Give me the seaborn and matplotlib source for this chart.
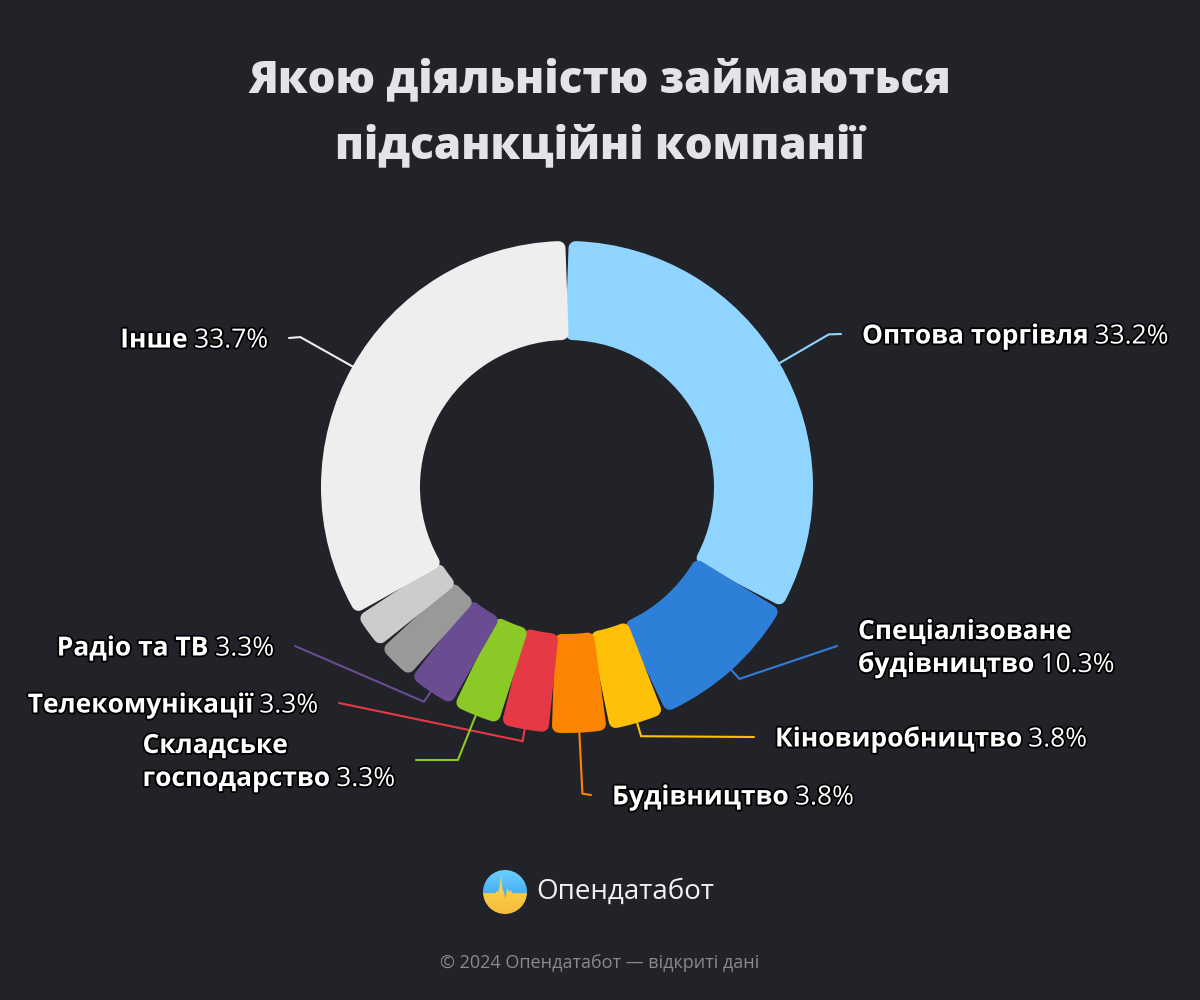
import numpy as np
import matplotlib
matplotlib.use("Agg")
import matplotlib.pyplot as plt
import matplotlib.patheffects as pe
from matplotlib.patches import Circle
import seaborn as sns

# ---------------- data ----------------
categories = ["Оптова торгівля", "Спеціалізоване\nбудівництво", "Кіновиробництво",
              "Будівництво", "Телекомунікації", "Складське\nгосподарство",
              "Радіо та ТВ", "", "", "Інше"]
values = [33.2, 10.3, 3.8, 3.8, 3.3, 3.3, 3.3, 2.7, 2.6, 33.7]
colors = ["#8fd5ff", "#2d7fd8", "#ffc107", "#fb8500", "#e63946",
          "#8ac926", "#6a4c93", "#999999", "#cccccc", "#eeeeee"]

title_lines = ["Якою діяльністю займаються", "підсанкційні компанії"]
brand = "Опендатабот"
footer = "© 2024 Опендатабот — відкриті дані"

# ---------------- layout ----------------
BG = "#212329"
W, H = 1200, 1000
CX, CY = 567, 487
R_OUT, R_IN = 246, 147
CORNER = 7.0

label_side = ["right", "right", "right", "right", "left", "left", "left", None, None, "left"]
label_x = [862, 858, 775, 612, 318, 395, 274, None, None, 268]
label_y = [334, 646, 737, 795, 703, 760, 646, None, None, 338]
elbow_ext = [57, 12, 14, 61, 12, 48, 12, None, None, 60]
LINE_GAP = 21
LINE_H = 33
LFS = 19  # pt

sns.set_theme(style="dark", rc={"figure.facecolor": BG, "axes.facecolor": BG,
                                "savefig.facecolor": BG})
plt.rcParams["font.family"] = ["Open Sans", "DejaVu Sans"]

fig = plt.figure(figsize=(W / 100, H / 100), dpi=100)
ax = fig.add_axes([0, 0, 1, 1])
pal = sns.color_palette(colors)

wedges, _ = ax.pie(values, colors=pal, radius=R_OUT, center=(CX, CY),
                   startangle=-90, counterclock=True,
                   wedgeprops=dict(width=R_OUT - R_IN))
ax.set_xlim(0, W)
ax.set_ylim(H, 0)
ax.set_aspect("equal")
ax.axis("off")

# rounded segments: shrink geometry, then stroke with same colour & round joins
r_mid = (R_OUT + R_IN) / 2
dtheta = np.degrees(CORNER / r_mid)
mids = []
for w, c in zip(wedges, pal):
    mids.append(np.radians((w.theta1 + w.theta2) / 2))
    w.set_theta1(w.theta1 + dtheta)
    w.set_theta2(w.theta2 - dtheta)
    w.set_radius(R_OUT - CORNER)
    w.set_width(R_OUT - R_IN - 2 * CORNER)
    w.set_edgecolor(c)
    w.set_linewidth(2 * CORNER * 72 / 100)
    w.set_joinstyle("round")

fig.canvas.draw()
renderer = fig.canvas.get_renderer()
stroke = [pe.withStroke(linewidth=2.6, foreground="black")]


def run_width(s, weight):
    t = ax.text(0, 0, s, fontsize=LFS, fontweight=weight)
    w = t.get_window_extent(renderer).width
    t.remove()
    return w


for i, name in enumerate(categories):
    side = label_side[i]
    if side is None:
        continue
    m = mids[i]
    d = np.array([np.cos(m), np.sin(m)])
    p0 = np.array([CX, CY]) + R_OUT * d
    p1 = np.array([CX, CY]) + (R_OUT + elbow_ext[i]) * d
    ex = label_x[i] - LINE_GAP if side == "right" else label_x[i] + LINE_GAP
    p2 = np.array([ex, label_y[i]])
    pts = np.vstack([p0, p1, p2])
    ax.plot(pts[:, 0], pts[:, 1], color=pal[i], lw=1.5, solid_joinstyle="miter")

    parts = name.split("\n")
    lines = [[(p, "bold")] for p in parts]
    lines[-1].append((f" {values[i]:.1f}%", "normal"))
    widths = [sum(run_width(s, wt) for s, wt in ln) for ln in lines]
    block = max(widths)
    left = label_x[i] if side == "right" else label_x[i] - block
    n = len(lines)
    y0 = label_y[i] - (n - 1) * LINE_H / 2
    fs_px = LFS * 100 / 72
    for k, ln in enumerate(lines):
        x = left
        yb = y0 + k * LINE_H + 0.36 * fs_px
        for s, wt in ln:
            t = ax.text(x, yb, s, fontsize=LFS, fontweight=wt, color="white",
                        ha="left", va="baseline", path_effects=stroke, zorder=5)
            x += t.get_window_extent(renderer).width

# title
for k, tl in enumerate(title_lines):
    ax.text(600, 81 + k * 66, tl, fontsize=31.7, fontweight="heavy", color="#e4e4e6",
            ha="center", va="center")

# logo
LX, LY, LR = 505, 892, 22
gx = np.linspace(-1, 1, 200)
gy = np.linspace(-1, 1, 200)
XX, YY = np.meshgrid(gx, gy)  # YY: -1 top, +1 bottom
bx = [-1.0, -0.45, -0.38, -0.32, -0.25, -0.18, -0.12, -0.05, 0.02, 0.1, 0.18, 0.26, 0.34, 1.0]
by = [0.05, 0.05, -0.05, 0.02, -0.2, -0.75, -0.15, 0.0, 0.3, -0.2, 0.0, -0.1, 0.05, 0.05]
boundary = np.interp(gx, bx, by)
blue_top = np.array([0.42, 0.82, 1.0])
blue_bot = np.array([0.16, 0.55, 0.90])
yel_top = np.array([1.0, 0.86, 0.35])
yel_bot = np.array([0.96, 0.74, 0.22])
tt = ((YY + 1) / 2)[..., None]
blue = blue_top * (1 - tt) + blue_bot * tt
yel = yel_top * (1 - tt) + yel_bot * tt
img = np.where((YY < boundary[None, :])[..., None], blue, yel)
im = ax.imshow(img, extent=(LX - LR, LX + LR, LY + LR, LY - LR), zorder=3,
               interpolation="bilinear")
clip = Circle((LX, LY), LR, transform=ax.transData)
im.set_clip_path(clip)
ax.set_xlim(0, W)
ax.set_ylim(H, 0)
ax.text(536, 892, brand, fontsize=20, color="#f2f2f2", ha="left", va="center")

ax.text(600, 963, footer, fontsize=13, color="#8a8a8e", ha="center", va="center")

fig.savefig("out.png", dpi=100, facecolor=BG)
